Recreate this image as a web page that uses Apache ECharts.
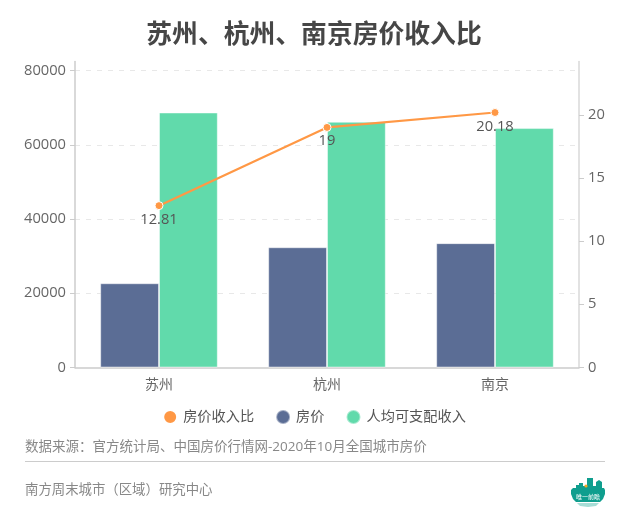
<!DOCTYPE html>
<html>
<head>
<meta charset="utf-8">
<style>
html,body{margin:0;padding:0;background:#fff;}
#main{width:628px;height:518px;}
</style>
<script src="https://cdn.jsdelivr.net/npm/echarts@6/dist/echarts.min.js"></script>
</head>
<body>
<div id="main"></div>
<script>
var FONT = '"Open Sans","Noto Sans CJK SC",sans-serif';

var cities = ['苏州', '杭州', '南京'];
var ratio = [12.81, 19, 20.18];
var price = [22700, 32400, 33500];
var income = [68700, 66200, 64500];
var priceTicks = [0, 20000, 40000, 60000, 80000];
var ratioTicks = [0, 5, 10, 15, 20];

var myChart = echarts.init(document.getElementById('main'));

// 数字不要千分位
function plainNumber(value) {
	return String(value);
}

var axisText = { color: '#666', fontSize: 14.7, fontFamily: FONT, formatter: plainNumber };

myChart.setOption({
	animation: false,
	textStyle: { fontFamily: FONT },
	title: {
		text: '苏州、杭州、南京房价收入比',
		left: 'center',
		top: 18,
		textStyle: { color: '#464646', fontSize: 25.8, fontWeight: 'bold', fontFamily: FONT }
	},
	legend: {
		data: ['房价收入比', '房价', '人均可支配收入'],
		top: 404,
		left: 'center',
		icon: 'circle',
		itemWidth: 14,
		itemHeight: 14,
		itemGap: 21,
		textStyle: { color: '#555', fontSize: 14.2, fontFamily: FONT, padding: [0, 0, 0, 1] }
	},
	grid: { left: 75, right: 49, top: 61.5, bottom: 150.5 },
	xAxis: {
		type: 'category',
		data: cities,
		axisLine: { lineStyle: { color: '#ccc', width: 1.5 } },
		axisTick: { alignWithLabel: true, length: 5, lineStyle: { color: '#ccc' } },
		axisLabel: { margin: 11, color: '#666', fontSize: 14, fontFamily: FONT }
	},
	yAxis: [
		{
			type: 'value',
			min: 0,
			max: 82440,
			interval: 20000,
			axisLine: { show: true, lineStyle: { color: '#ccc', width: 1.5 } },
			axisTick: { show: true, length: 5, lineStyle: { color: '#ccc' }, customValues: priceTicks },
			axisLabel: Object.assign({ margin: 9, customValues: priceTicks }, axisText),
			splitLine: { show: true, showMinLine: false, showMaxLine: true, lineStyle: { color: '#e8e8e8', type: [5, 6] } }
		},
		{
			type: 'value',
			min: 0,
			max: 24.216,
			interval: 5,
			axisLine: { show: true, lineStyle: { color: '#d8d8d8', width: 1.5 } },
			axisTick: { show: true, length: 5, lineStyle: { color: '#ccc' }, customValues: ratioTicks },
			axisLabel: Object.assign({ margin: 9, customValues: ratioTicks }, axisText),
			splitLine: { show: false }
		}
	],
	series: [
		{
			name: '房价',
			type: 'bar',
			data: price,
			barWidth: '35%',
			barGap: 0,
			itemStyle: { color: '#5B6D95', borderColor: 'rgba(255,255,255,0.45)', borderWidth: 1 }
		},
		{
			name: '人均可支配收入',
			type: 'bar',
			data: income,
			barWidth: '35%',
			itemStyle: { color: '#61DAAB', borderColor: 'rgba(255,255,255,0.45)', borderWidth: 1 }
		},
		{
			name: '房价收入比',
			type: 'line',
			yAxisIndex: 1,
			data: ratio,
			symbol: 'circle',
			symbolSize: 8,
			lineStyle: { color: '#FF9845', width: 2.2 },
			itemStyle: { color: '#FF9845', borderColor: '#fff', borderWidth: 1 },
			label: { show: true, position: 'bottom', distance: 2, color: '#555', fontSize: 14.7, fontFamily: FONT }
		}
	],
	graphic: [
		{
			type: 'text', left: 25, top: 440,
			style: { text: '数据来源：官方统计局、中国房价行情网-2020年10月全国城市房价', fill: '#888', fontSize: 13.5, fontFamily: FONT }
		},
		{
			type: 'line',
			shape: { x1: 25, y1: 461.5, x2: 605, y2: 461.5 },
			style: { stroke: '#ccc', lineWidth: 1 }
		},
		{
			type: 'text', left: 25, top: 483,
			style: { text: '南方周末城市（区域）研究中心', fill: '#888', fontSize: 13.4, fontFamily: FONT }
		},
		// 右下角标志
		{
			type: 'polygon',
			shape: { points: [[571,490],[573,488],[576,488],[576,485],[579,485],[579,483],[583,483],[583,486],[587,486],[587,478],[593,478],[593,486],[596,486],[596,482],[599,480],[602,482],[602,488],[604,488],[605,490],[605,494],[603,499],[600,502],[576,502],[573,499],[571,494]] },
			style: { fill: '#0F9E8E' }
		},
		{
			type: 'polygon',
			shape: { points: [[577,503],[599,503],[596,506],[588,507],[580,506]] },
			style: { fill: '#A6DDD6' }
		},
		{ type: 'circle', shape: { cx: 586, cy: 486, r: 1.6 }, style: { fill: '#F5A623' } },
		{
			type: 'text', left: 576, top: 494,
			style: { text: '唯一前瞻', fill: '#fff', fontSize: 6, fontFamily: FONT }
		}
	]
});
</script>
</body>
</html>
